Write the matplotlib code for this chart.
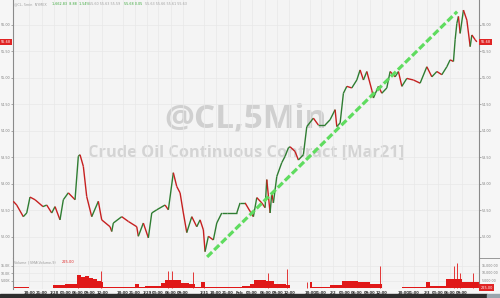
import numpy as np
import matplotlib
import matplotlib.pyplot as plt
from matplotlib.collections import LineCollection
from matplotlib.lines import Line2D
from matplotlib.patches import Rectangle

matplotlib.use('Agg')

# price trace: trading hours since start, price
price_t = [0.07, 0.92, 2.57, 3.42, 4.24, 5.49, 7.48, 8.41, 9.65, 10.48, 11.72, 12.55, 13.79,
           15.47, 16.29, 16.71, 17.54, 18.38, 19.63, 21.28, 22.12, 24.2, 24.62, 25.02, 27.11,
           28.76, 30.86, 31.25, 32.5, 33.75, 34.6, 35.85, 37.91, 38.74, 39.98, 40.83, 41.66,
           42.48, 43.33, 44.58, 45.82, 46.65, 47.47, 47.89, 48.72, 49.96, 50.81, 52.06, 53.31,
           55.8, 56.62, 57.87, 59.12, 59.94, 60.79, 62.03, 62.86, 63.28, 64.11, 64.53, 64.93,
           65.78, 67.02, 67.85, 68.67, 69.09, 70.34, 71.16, 72.41, 73.26, 74.9, 76.15, 77.82,
           79.07, 80.32, 80.74, 81.57, 82.39, 83.24, 84.48, 85.73, 86.55, 87.38, 88.23, 89.47,
           89.87, 91.12, 91.97, 93.21, 94.04, 95.28, 96.11, 96.96, 98.2, 99.85, 101.52, 103.19,
           104.44, 105.69, 106.93, 108.18, 109.0, 109.83, 110.25, 110.68, 111.07, 111.5, 112.32,
           113.17, 114.0, 114.42, 115.24, 115.66]
price_v = [52.67, 52.60, 52.38, 52.45, 52.75, 52.70, 52.57, 52.60, 52.45, 52.57, 52.32, 52.70, 52.83,
           52.70, 53.52, 53.55, 53.33, 52.76, 52.38, 52.67, 52.32, 52.19, 52.10, 52.26, 52.38,
           52.29, 52.19, 52.01, 52.26, 51.98, 52.45, 52.51, 52.60, 52.51, 53.21, 52.95, 52.83,
           52.45, 52.08, 52.38, 52.19, 52.32, 52.13, 51.72, 52.01, 51.94, 52.26, 52.45, 52.45,
           52.45, 52.64, 52.64, 52.48, 52.38, 52.74, 52.64, 52.55, 53.08, 52.45, 52.83, 52.64,
           53.14, 53.40, 53.52, 53.68, 53.70, 53.61, 53.45, 53.55, 54.08, 54.24, 54.11, 54.11,
           54.21, 54.40, 54.08, 54.15, 54.71, 54.84, 54.81, 54.96, 55.15, 54.96, 55.12, 54.77,
           54.62, 54.84, 54.71, 54.81, 55.12, 55.02, 55.12, 54.84, 54.99, 54.96, 54.90, 55.21,
           55.02, 55.12, 55.06, 55.21, 55.34, 55.31, 55.72, 56.03, 56.16, 55.84, 56.28,
           56.09, 55.59, 55.81, 55.72, 55.68]

# trend line drawn on the chart
trend_t = [48.4, 110.75]
trend_v = [51.62, 56.25]

# volume: hourly blocks and single tall bars
vol_t = [0, 4, 10, 13, 15, 16, 17, 18, 19, 20, 21, 22, 22.5, 27, 30.5, 31.5, 33, 37, 38, 42, 44,
         45.5, 47, 48, 57, 59, 60, 63, 65, 68, 69, 74, 74.5, 79, 82, 86, 89, 92, 97, 103, 104,
         108, 112, 116.2]
vol_v = [700, 300, 2000, 2500, 3000, 9000, 7500, 8000, 7000, 6000, 5000, 4000, 500, 400, 2700,
         400, 1500, 3500, 5500, 3500, 2500, 1000, 4000, 400, 1500, 3000, 5500, 4500, 3000, 2000,
         300, 4000, 400, 2000, 5000, 4000, 2500, 300, 400, 4000, 1500, 6000, 4000, 4000]
spike_t = [16.3, 21.9, 38.6, 39.6, 45.0, 47.6, 63.7, 68.3, 73.3, 91.5, 110.0, 110.8, 111.5, 114.7]
spike_v = [8700, 11300, 11500, 11500, 10500, 4200, 9800, 12500, 4000, 14900, 14700, 16500, 10000, 9800]

tick_t = [4, 7.25, 10.25, 13.25, 16.25, 19, 22.25, 27.4, 30.4, 33.4, 36.2, 39.4, 42.4,
          47.6, 50.6, 53.6, 56.6, 59.6, 62.9, 65.9, 68.9, 74.1, 76.8, 79.8, 82.8, 85.8, 89.0, 92.0,
          97.3, 100.0, 103.3, 106.0, 109.0, 112.0]
tick_lbl = ['18:00', '21:00', '1/28', '03:00', '06:00', '09:00', '12:00',
            '18:00', '21:00', '1/29', '03:00', '06:00', '09:00',
            '1/31', '18:00', '21:00', 'Feb', '03:00', '06:00', '09:00', '12:00',
            '18:00', '21:00', '2/2', '03:00', '06:00', '09:00', '12:00',
            '18:00', '21:00', '2/3', '03:00', '06:00', '09:00']
price_ticks = [52.0, 52.5, 53.0, 53.5, 54.0, 54.5, 55.0, 55.5, 56.0]
vol_ticks = [5000, 10000, 15000]
vol_tick_lbl = ['5.00K', '10.0K', '15.0K']
last_price = 55.68
last_vol = 225.00

W, H = 500, 298
fig = plt.figure(figsize=(5, 2.98), dpi=100, facecolor='#f6f6f6')
ax = fig.add_axes([13 / W, 1 - 258 / H, 466 / W, 258 / H])
axv = fig.add_axes([13 / W, 1 - 289 / H, 466 / W, 31 / H], sharex=ax)

for a in (ax, axv):
    a.set_facecolor('#f4f4f4')
    a.grid(True, color='#e8e8e8', lw=0.5)
    a.set_axisbelow(True)
    for s in ['top', 'bottom']:
        a.spines[s].set_visible(False)
    for s in ['left', 'right']:
        a.spines[s].set_color('#8a8a8a')
        a.spines[s].set_linewidth(0.8)

# watermark
ax.text(0.5, 1 - 120 / 258, '@CL,5Min', transform=ax.transAxes, ha='center', va='center',
        family='Open Sans', weight='bold', fontsize=24, color='#d0d0d0', zorder=0)
ax.text(0.5, 1 - 152 / 258, 'Crude Oil Continuous Contract [Mar21]', transform=ax.transAxes,
        ha='center', va='center', family='Open Sans', weight='bold', fontsize=11.8,
        color='#d4d4d4', zorder=0)

# price, green where it rises and red where it falls
pts = np.column_stack([price_t, price_v])
segs = np.stack([pts[:-1], pts[1:]], axis=1)
cols = ['#2f7d32' if b >= a else '#c62020' for a, b in zip(price_v[:-1], price_v[1:])]
ax.add_collection(LineCollection(segs, colors=cols, linewidths=1.0, zorder=3))

ax.plot(trend_t, trend_v, color='#5fdc5f', lw=2.3, ls=(0, (2.2, 0.9)), zorder=4,
        solid_capstyle='butt')

ax.set_xlim(0, 116.2)
ax.set_ylim(51.60, 56.47)
ax.set_yticks(price_ticks)
ax.set_yticklabels(['%.2f' % p for p in price_ticks])
ax.tick_params(axis='y', labelleft=True, labelright=True, left=True, right=True,
               length=1.2, width=0.5, color='#8a8a8a', labelsize=2.4, labelcolor='#808080', pad=0.8)
ax.tick_params(axis='x', bottom=False, labelbottom=False)
ax.set_xticks(tick_t)

# last price markers
for xx in (-0.026, 1.003):
    ax.text(xx, last_price, '%.2f' % last_price,
            transform=ax.get_yaxis_transform(), ha='left', va='center', fontsize=2.5,
            color='white', zorder=6, clip_on=False,
            bbox=dict(boxstyle='square,pad=0.35', fc='#e02424', ec='none'))

# volume
axv.fill_between(vol_t, vol_v, step='post', color='#e01818', lw=0)
axv.vlines(spike_t, 0, spike_v, color='#e01818', lw=0.6)
axv.set_ylim(-650, 20000)
axv.set_yticks(vol_ticks)
axv.set_yticklabels(vol_tick_lbl)
axv.tick_params(axis='y', labelleft=True, labelright=False, left=True, right=False,
                length=1.2, width=0.5, color='#8a8a8a', labelsize=2.3, labelcolor='#808080', pad=0.8)
axv.set_xticks(tick_t)
axv.set_xticklabels(tick_lbl)
axv.tick_params(axis='x', length=0, labelsize=2.7, labelcolor='#333333', pad=1.5)
for lab in axv.get_xticklabels():
    lab.set_fontweight('bold')
for v, s in zip(vol_ticks, ['5,000.00', '10,000.00', '15,000.00']):
    axv.text(1.006, v, s, transform=axv.get_yaxis_transform(), ha='left', va='center',
             fontsize=2.3, color='#808080', clip_on=False)
axv.text(1.003, last_vol, '%.2f' % last_vol, transform=axv.get_yaxis_transform(), ha='left',
         va='center', fontsize=2.5, color='white', clip_on=False,
         bbox=dict(boxstyle='square,pad=0.35', fc='#e02424', ec='none'))
axv.text(0.002, 0.93, 'Volume | SMA(Volume,9)', transform=axv.transAxes, ha='left', va='top',
         fontsize=2.4, color='#9a9a9a')
axv.text(0.105, 0.93, '225.00', transform=axv.transAxes, ha='left', va='top',
         fontsize=2.6, color='#e02424')

# header line
hy = 1 - 4 / H
fig.text(14 / W, hy, '@CL, 5min  NYMEX', fontsize=2.4, color='#a0a0a0', va='center')
fig.text(52 / W, hy, '1,662.83  8.88  1.54%', fontsize=2.4, color='#3aa83a', va='center')
fig.text(89 / W, hy, '55.60 55.63 55.59', fontsize=2.4, color='#a0a0a0', va='center')
fig.text(124 / W, hy, '55.68 0.05', fontsize=2.4, color='#3aa83a', va='center')
fig.text(145 / W, hy, '55.63 55.66 55.61 55.63', fontsize=2.4, color='#a0a0a0', va='center')

# divider on the right strip and dark footer
fig.add_artist(Line2D([479 / W, 1], [1 - 258 / H] * 2, color='#8a8a8a', lw=0.6))
fig.add_artist(Rectangle((0, 0), 487 / W, 4 / H, transform=fig.transFigure, color='#2e2e2e'))
fig.add_artist(Rectangle((487 / W, 0), 13 / W, 4 / H, transform=fig.transFigure, color='#9aa5ad'))

plt.savefig('out.png', dpi=100, facecolor=fig.get_facecolor())
